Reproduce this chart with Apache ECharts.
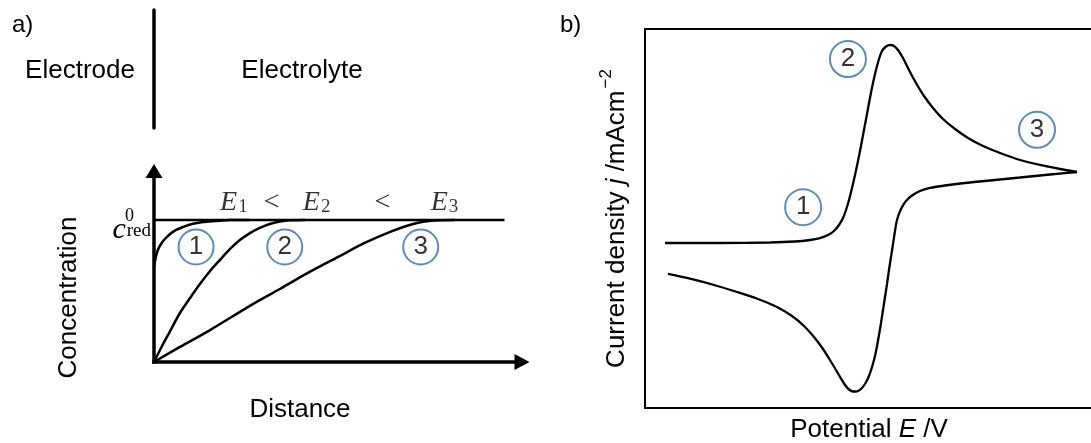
<!DOCTYPE html>
<html>
<head>
<meta charset="utf-8">
<script src="https://cdn.jsdelivr.net/npm/echarts@6/dist/echarts.min.js"></script>
<style>
  html, body { margin: 0; padding: 0; background: #fff; }
  #chart { width: 1091px; height: 443px; }
</style>
</head>
<body>
<div id="chart"></div>
<script>
// ---- a) concentration of the reduced species vs. distance from the electrode
// distance in units of the bulk-region width, concentration relative to c0_red
const profileE1 = [
  [0, 0.669], [0.003, 0.711], [0.006, 0.746], [0.011, 0.789], [0.020, 0.831],
  [0.031, 0.866], [0.046, 0.901], [0.063, 0.930], [0.083, 0.951], [0.108, 0.972],
  [0.140, 0.986], [0.174, 0.993], [0.217, 1.0], [0.274, 1.0]
];
const profileE2 = [
  [0, 0], [0.023, 0.113], [0.046, 0.218], [0.074, 0.345], [0.103, 0.451],
  [0.131, 0.549], [0.160, 0.641], [0.188, 0.718], [0.217, 0.796], [0.245, 0.859],
  [0.274, 0.908], [0.302, 0.944], [0.330, 0.972], [0.359, 0.989], [0.387, 0.998],
  [0.430, 1.0]
];
const profileE3 = [
  [0, 0], [0.074, 0.106], [0.160, 0.225], [0.282, 0.408], [0.359, 0.514],
  [0.444, 0.634], [0.530, 0.746], [0.601, 0.838], [0.672, 0.915], [0.729, 0.965],
  [0.772, 0.989], [0.815, 0.998], [0.858, 1.0]
];
const bulkLevel = [[0, 1], [1, 1]];
const profileBadges = [[0.12, 0.81, '1'], [0.373, 0.81, '2'], [0.761, 0.81, '3']];
const potentialOrder = [
  [0.228, 1.12, 'E', '1'], [0.336, 1.12, '<', ''], [0.464, 1.12, 'E', '2'],
  [0.652, 1.12, '<', ''], [0.829, 1.12, 'E', '3']
];
const concentrationTicks = [1];

// ---- b) cyclic voltammogram (normalised potential and current density)
const cvForward = [
  [4.46, 43.54], [16.74, 43.54], [27.90, 43.67], [33.48, 43.93], [36.83, 44.33],
  [39.06, 44.85], [40.85, 45.65], [42.19, 46.70], [43.30, 48.28], [44.20, 50.13],
  [44.87, 52.24], [45.54, 54.88], [46.21, 58.05], [46.88, 61.48], [47.54, 65.17],
  [48.21, 69.13], [48.88, 73.35], [49.55, 77.57], [50.22, 81.79], [50.89, 85.75],
  [51.56, 89.18], [52.23, 92.08], [52.90, 94.20], [53.79, 95.38], [54.69, 95.78],
  [55.58, 95.51], [56.47, 94.46], [57.59, 92.35], [58.93, 89.18], [60.49, 85.75],
  [62.28, 82.32], [64.29, 79.16], [66.52, 76.25], [69.20, 73.61], [72.10, 71.24],
  [75.45, 69.13], [79.24, 67.28], [83.71, 65.44], [88.17, 64.12], [92.63, 63.06],
  [96.43, 62.27]
];
const cvReverse = [
  [96.43, 62.27], [90.40, 61.61], [83.71, 60.82], [77.01, 60.03], [71.43, 59.37],
  [66.96, 58.71], [63.62, 58.05], [61.38, 57.26], [59.60, 56.07], [58.26, 54.62],
  [57.14, 52.51], [56.25, 49.60], [55.80, 46.70], [55.36, 43.27], [54.91, 39.84],
  [54.46, 36.41], [54.02, 32.72], [53.57, 29.29], [53.13, 25.86], [52.68, 22.43],
  [52.23, 19.26], [51.79, 16.36], [51.34, 13.72], [50.67, 10.82], [50.00, 8.44],
  [49.11, 6.33], [48.21, 5.01], [47.32, 4.41], [46.43, 4.35], [45.54, 4.88],
  [44.64, 6.07], [43.75, 7.78], [42.63, 10.03], [41.29, 12.66], [39.73, 15.57],
  [37.72, 18.73], [35.49, 21.64], [32.81, 24.27], [29.46, 26.65], [25.22, 28.76],
  [20.54, 30.61], [15.40, 32.45], [10.27, 34.04], [5.13, 35.36]
];
const cvBadges = [[35.3, 53.0, '1'], [45.3, 92.1, '2'], [87.5, 73.4, '3']];

const SANS = 'Arial, "Liberation Sans", sans-serif';
const SERIF = '"Cambria Math", "Liberation Serif", "DejaVu Serif", serif';
const BADGE_BLUE = '#3a6ea5';

function curve(data, xi, yi, width) {
  return {
    type: 'line', xAxisIndex: xi, yAxisIndex: yi, data: data,
    symbol: 'none', smooth: 0.3, silent: true,
    lineStyle: { color: '#000', width: width }
  };
}
function badges(data, xi, yi, size) {
  return {
    type: 'scatter', xAxisIndex: xi, yAxisIndex: yi, data: data,
    symbol: 'circle', symbolSize: size, silent: true, z: 5,
    itemStyle: { color: 'rgba(255,255,255,0)', borderColor: BADGE_BLUE, borderWidth: 2 },
    label: {
      show: true, position: 'inside', formatter: p => p.data[2],
      color: '#000', fontFamily: SANS, fontSize: 26
    }
  };
}

const chart = echarts.init(document.getElementById('chart'), null, { renderer: 'canvas' });

chart.setOption({
  animation: false,
  backgroundColor: '#fff',
  title: [
    { text: 'a)', left: 7, top: 8, textStyle: { fontFamily: SANS, fontSize: 24, fontWeight: 'normal', color: '#000' } },
    { text: 'b)', left: 555, top: 8, textStyle: { fontFamily: SANS, fontSize: 24, fontWeight: 'normal', color: '#000' } }
  ],
  graphic: [
    { type: 'text', x: 80, y: 71, style: { text: 'Electrode', font: '26px ' + SANS, fill: '#000', textAlign: 'center', textVerticalAlign: 'middle' } },
    { type: 'text', x: 302, y: 71, style: { text: 'Electrolyte', font: '26px ' + SANS, fill: '#000', textAlign: 'center', textVerticalAlign: 'middle' } }
  ],
  grid: [
    // a) concentration profiles
    { left: 154, top: 171, right: 569, bottom: 81, outerBoundsMode: 'none' },
    // b) voltammogram frame
    { left: 645, top: 29, right: -2, bottom: 35, outerBoundsMode: 'none',
      show: true, borderColor: '#000', borderWidth: 2, backgroundColor: 'transparent' },
    // electrode | electrolyte interface
    { left: 154, top: 10, width: 100, bottom: 315, outerBoundsMode: 'none' }
  ],
  xAxis: [
    {
      gridIndex: 0, type: 'value', min: 0, max: 1.05,
      name: 'Distance', nameLocation: 'middle', nameGap: 35,
      nameTextStyle: { fontFamily: SANS, fontSize: 26, color: '#000', padding: [0, 76, 0, 0] },
      axisLine: { show: true, symbol: ['none', 'triangle'], symbolSize: [16, 15],
        lineStyle: { color: '#000', width: 3.5, cap: 'square' } },
      axisTick: { show: false }, axisLabel: { show: false }, splitLine: { show: false }
    },
    {
      gridIndex: 1, type: 'value', min: 0, max: 100,
      name: 'Potential {i|E} /V', nameLocation: 'middle', nameGap: 9,
      nameTextStyle: { fontFamily: SANS, fontSize: 26, color: '#000', rich: { i: { fontStyle: 'italic', fontFamily: SANS, fontSize: 26 } } },
      axisLine: { show: false }, axisTick: { show: false }, axisLabel: { show: false }, splitLine: { show: false }
    },
    { gridIndex: 2, type: 'value', min: 0, max: 1, show: false }
  ],
  yAxis: [
    {
      gridIndex: 0, type: 'value', min: 0, max: 1.345,
      name: 'Concentration', nameLocation: 'middle', nameGap: 72,
      nameTextStyle: { fontFamily: SANS, fontSize: 26, color: '#000', padding: [0, 62, 0, 0] },
      axisLine: { show: true, symbol: ['none', 'triangle'], symbolSize: [17, 14],
        lineStyle: { color: '#000', width: 3.5, cap: 'square' } },
      axisTick: { show: false }, splitLine: { show: false },
      axisLabel: {
        show: true, customValues: concentrationTicks, margin: 3,
        formatter: () => '{z|0}\n{c|c}{r|red}',
        rich: {
          z: { fontFamily: SERIF, fontSize: 18, color: '#000', lineHeight: 10, padding: [12, 17, 0, 0] },
          c: { fontFamily: SERIF, fontStyle: 'italic', fontSize: 30, color: '#000', lineHeight: 16, verticalAlign: 'top' },
          r: { fontFamily: SERIF, fontSize: 19, color: '#000', lineHeight: 20, verticalAlign: 'top', padding: [7, 0, 3, 1] }
        }
      }
    },
    {
      gridIndex: 1, type: 'value', min: 0, max: 100,
      name: 'Current density {i|j} /mAcm{s|−2}', nameLocation: 'middle', nameGap: 10,
      nameTextStyle: {
        fontFamily: SANS, fontSize: 26, color: '#000',
        rich: {
          i: { fontStyle: 'italic', fontFamily: SANS, fontSize: 26 },
          s: { fontFamily: SANS, fontSize: 17, verticalAlign: 'top', padding: [0, 0, 20, 2] }
        }
      },
      axisLine: { show: false }, axisTick: { show: false }, axisLabel: { show: false }, splitLine: { show: false }
    },
    {
      gridIndex: 2, type: 'value', min: 0, max: 1,
      axisLine: { show: true, lineStyle: { color: '#000', width: 3.5 } },
      axisTick: { show: false }, axisLabel: { show: false }, splitLine: { show: false }
    }
  ],
  series: [
    curve(bulkLevel, 0, 0, 2.5),
    curve(profileE1, 0, 0, 2.5),
    curve(profileE2, 0, 0, 2.5),
    curve(profileE3, 0, 0, 2.5),
    badges(profileBadges, 0, 0, 35),
    {
      type: 'scatter', xAxisIndex: 0, yAxisIndex: 0, data: potentialOrder,
      symbolSize: 0, silent: true,
      label: {
        show: true, position: 'inside', color: '#000',
        formatter: p => p.data[3] ? '{e|' + p.data[2] + '}{s|' + p.data[3] + '}' : '{o|' + p.data[2] + '}',
        rich: {
          e: { fontFamily: SERIF, fontStyle: 'italic', fontSize: 28, color: '#000', lineHeight: 28 },
          s: { fontFamily: SERIF, fontSize: 19, color: '#000', lineHeight: 28, verticalAlign: 'bottom', padding: [10, 0, 0, 1] },
          o: { fontFamily: SERIF, fontSize: 28, color: '#000', lineHeight: 28 }
        }
      }
    },
    curve(cvForward, 1, 1, 2.3),
    curve(cvReverse, 1, 1, 2.3),
    badges(cvBadges, 1, 1, 36)
  ]
});
</script>
</body>
</html>
